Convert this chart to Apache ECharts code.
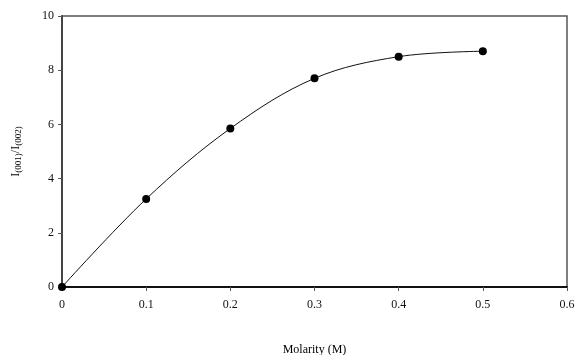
<!DOCTYPE html>
<html><head><meta charset="utf-8">
<script src="https://cdn.jsdelivr.net/npm/echarts@6/dist/echarts.min.js"></script>
<style>html,body{margin:0;padding:0;background:#fff}#c{width:575px;height:355px}</style>
</head><body><div id="c"></div>
<script>
const molarity = [0, 0.1, 0.2, 0.3, 0.4, 0.5];
const ratio = [0, 3.25, 5.85, 7.7, 8.5, 8.7];
const xTicks = [0, 0.1, 0.2, 0.3, 0.4, 0.5, 0.6];
const yTicks = [0, 2, 4, 6, 8, 10];

const chart = echarts.init(document.getElementById('c'));
const font = '"Liberation Serif", "DejaVu Serif", serif';
chart.setOption({
  animation: false,
  backgroundColor: '#fff',
  grid: {left: 62, right: 8, top: 16, bottom: 68, show: true, borderColor: '#555', borderWidth: 1.5,
    containLabel: false, outerBoundsMode: 'none'},
  xAxis: {
    type: 'value', min: 0, max: 0.6, interval: 0.1,
    name: 'Molarity (M)', nameLocation: 'middle', nameGap: 57,
    nameTextStyle: {fontFamily: font, fontSize: 12, color: '#000'},
    axisLine: {lineStyle: {color: '#111', width: 2}},
    axisTick: {length: 4, lineStyle: {color: '#555'}},
    axisLabel: {fontFamily: font, fontSize: 12, color: '#111', margin: 12,
      formatter: v => { const t = xTicks.find(x => Math.abs(x - v) < 1e-9); return t === undefined ? '' : String(t); }},
    splitLine: {show: false}
  },
  yAxis: {
    type: 'value', min: 0, max: 10, interval: 2,
    name: '{m|I}{s|(001)}{m|/I}{s|(002)}', nameLocation: 'middle', nameGap: 39,
    nameTextStyle: {fontFamily: font, color: '#000',
      rich: {m: {fontFamily: font, fontSize: 12, color: '#000'}, s: {fontFamily: font, fontSize: 9, color: '#000', verticalAlign: 'bottom', padding: [6, 0, 0, 0]}}},
    axisLine: {show: true, lineStyle: {color: '#444', width: 2}},
    axisTick: {show: true, length: 4, lineStyle: {color: '#555'}},
    axisLabel: {fontFamily: font, fontSize: 12, color: '#111', margin: 8,
      formatter: v => { const t = yTicks.find(x => Math.abs(x - v) < 1e-9); return t === undefined ? '' : String(t); }},
    splitLine: {show: false}
  },
  series: [{
    type: 'line', smooth: 0.35,
    data: molarity.map((m, i) => [m, ratio[i]]),
    symbol: 'circle', symbolSize: 8,
    itemStyle: {color: '#000'},
    lineStyle: {color: '#111', width: 1}
  }]
});
</script></body></html>
